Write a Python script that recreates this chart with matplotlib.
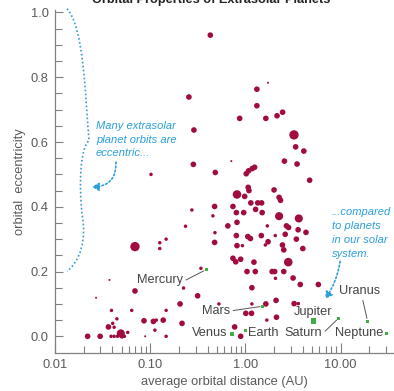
import numpy as np
import matplotlib
matplotlib.use("Agg")
import matplotlib.pyplot as plt
from matplotlib.path import Path
from matplotlib.patches import PathPatch
from matplotlib.ticker import FixedLocator, NullFormatter

# ---- extrasolar planets: orbit size (AU), eccentricity, rough mass (Jupiter masses)
exo_distance = [
    0.0220, 0.0298, 0.0388, 0.0418, 0.0453, 0.0491, 0.0505, 0.0536, 0.0581, 0.0886, 0.147,
    0.0364, 0.0418, 0.0404, 0.0447, 0.0392, 0.0640, 0.0270, 0.0373, 0.0692, 0.0692,
    0.0861, 0.108, 0.116, 0.112, 0.137, 0.147, 0.216, 0.206, 0.224, 0.315,
    0.126, 0.147, 0.126, 0.235, 0.274, 0.341, 0.527, 0.102, 0.284, 0.255, 0.288, 0.428,
    0.712, 0.483, 0.475, 0.456, 0.479, 0.475, 0.654, 0.740, 0.804, 0.960, 0.816, 0.804,
    0.816, 0.983, 1.07, 1.09, 1.02, 1.08, 1.25, 1.18, 0.816, 0.930, 0.740, 0.791, 0.892,
    1.04, 1.27, 1.23, 1.17, 1.01, 1.16, 1.64, 1.17, 1.68, 0.771, 0.892,
    1.62, 1.73, 2.45, 2.53, 4.01, 2.82, 1.91, 2.03, 2.53, 2.07, 3.17, 3.77, 5.84,
    2.10, 3.25, 3.60, 2.12,
    1.14, 1.35, 1.48, 1.28, 1.50, 2.26, 3.64, 1.70, 2.70, 2.84, 3.58, 4.33, 1.47, 2.06,
    2.62, 3.43, 1.06, 1.13, 2.00, 2.26, 2.34, 4.73, 2.57, 3.49, 3.37, 4.11, 3.24,
    0.871, 1.64, 2.15, 2.46, 1.32, 1.32, 1.73,
]
exo_eccentricity = [
    0.0, 0.0, 0.0, 0.0, 0.0, 0.009, 0.0, 0.0, 0.012, 0.0, 0.0,
    0.029, 0.028, 0.040, 0.054, 0.080, 0.080, 0.119, 0.174, 0.140, 0.277,
    0.048, 0.046, 0.050, 0.019, 0.050, 0.080, 0.040, 0.100, 0.149, 0.125,
    0.289, 0.300, 0.271, 0.340, 0.390, 0.210, 0.100, 0.500, 0.531, 0.739, 0.637, 0.930,
    0.541, 0.506, 0.401, 0.372, 0.320, 0.290, 0.341, 0.401, 0.382, 0.382, 0.352, 0.311,
    0.438, 0.432, 0.460, 0.450, 0.502, 0.511, 0.522, 0.518, 0.280, 0.280, 0.241, 0.230, 0.238,
    0.200, 0.200, 0.229, 0.150, 0.071, 0.071, 0.100, 0.100, 0.050, 0.029, 0.0,
    0.282, 0.292, 0.282, 0.267, 0.271, 0.229, 0.200, 0.200, 0.200, 0.179, 0.180, 0.160, 0.160,
    0.111, 0.101, 0.101, 0.059,
    0.412, 0.412, 0.412, 0.392, 0.382, 0.371, 0.364, 0.341, 0.341, 0.336, 0.329, 0.321, 0.311, 0.311,
    0.315, 0.300, 0.308, 0.302, 0.452, 0.429, 0.420, 0.482, 0.541, 0.532, 0.585, 0.572, 0.622,
    0.673, 0.673, 0.681, 0.692, 0.712, 0.763, 0.783,
]
exo_mass = [
    1.5, 1.5, 0.3, 0.3, 0.3, 5, 0.8, 0.3, 0.3, 0.05, 0.3,
    1.5, 0.3, 0.3, 0.3, 0.3, 0.3, 0.05, 0.05, 1.5, 8,
    1.5, 1.5, 0.3, 0.3, 1.5, 0.3, 1.5, 1.5, 0.3, 1.5,
    0.3, 0.3, 0.3, 0.3, 0.3, 0.3, 0.3, 0.3, 1.5, 1.5, 1.5, 1.5,
    0.05, 1.5, 1.5, 0.3, 0.3, 1.5, 1.5, 1.5, 1.5, 1.5, 1.5, 1.5,
    6, 1.5, 1.5, 1.5, 1.5, 1.5, 1.5, 1.5, 1.5, 0.3, 1.5, 1.5, 1.5,
    1.5, 1.5, 1.5, 1.5, 1.5, 1.5, 1.5, 0.3, 0.3, 1.5, 1.5,
    0.3, 1.5, 1.5, 1.5, 1.5, 6, 1.5, 1.5, 1.5, 0.3, 1.5, 1.5, 1.5,
    1.5, 1.5, 0.3, 1.5,
    1.5, 1.5, 1.5, 1.5, 1.5, 5, 5, 0.3, 1.5, 1.5, 1.5, 1.5, 1.5, 0.3,
    1.5, 1.5, 1.5, 1.5, 1.5, 1.5, 1.5, 1.5, 1.5, 1.5, 1.5, 1.5, 8,
    1.5, 1.5, 1.5, 1.5, 1.5, 1.5, 0.05,
]

# ---- our solar system
solar_names = ["Mercury", "Venus", "Earth", "Mars", "Jupiter", "Saturn", "Uranus", "Neptune"]
solar_distance = [0.387, 0.723, 1.0, 1.524, 5.20, 9.54, 19.2, 30.1]
solar_eccentricity = [0.206, 0.007, 0.017, 0.093, 0.048, 0.056, 0.047, 0.009]

x_ticks = [0.01, 0.1, 1.0, 10.0]
x_tick_labels = ["0.01", "0.10", "1.00", "10.00"]
y_ticks = [0.0, 0.2, 0.4, 0.6, 0.8, 1.0]
y_tick_labels = ["0.0", "0.2", "0.4", "0.6", "0.8", "1.0"]

# ---- styling
EXO_COLOR = "#a00c3c"
SOLAR_COLOR = "#3fae49"
NOTE_COLOR = "#2b9fd8"
AXIS_COLOR = "#808080"
TEXT_COLOR = "#5a5a5a"
FONT = ["Liberation Sans", "DejaVu Sans"]
plt.rcParams["font.family"] = FONT

fig = plt.figure(figsize=(3.94, 3.91), dpi=100)
ax = fig.add_axes([0.1396, 0.0964, 0.8604, 0.8775])
ax.set_xscale("log")
ax.set_xlim(0.01, 36.4)
ax.set_ylim(-0.0525, 1.007)

for side in ("top", "right"):
    ax.spines[side].set_visible(False)
for side in ("left", "bottom"):
    ax.spines[side].set_color(AXIS_COLOR)
    ax.spines[side].set_linewidth(0.9)

ax.set_xticks(x_ticks)
ax.set_xticklabels(x_tick_labels)
ax.xaxis.set_minor_locator(FixedLocator(
    [m * d for d in (0.01, 0.1, 1.0, 10.0) for m in range(2, 10) if m * d < 36]))
ax.xaxis.set_minor_formatter(NullFormatter())
ax.set_yticks(y_ticks)
ax.set_yticklabels(y_tick_labels)
ax.yaxis.set_minor_locator(FixedLocator([0.05, 0.1, 0.15, 0.25, 0.3, 0.35, 0.45, 0.5, 0.55,
                                         0.65, 0.7, 0.75, 0.85, 0.9, 0.95]))

ax.tick_params(axis="x", which="major", direction="in", length=7.2, width=0.8,
               color=AXIS_COLOR, labelcolor=TEXT_COLOR, labelsize=9.3, pad=4)
ax.tick_params(axis="x", which="minor", direction="in", length=4.8, width=0.8, color=AXIS_COLOR)
ax.tick_params(axis="y", which="major", direction="in", length=6.0, width=0.8,
               color=AXIS_COLOR, labelcolor=TEXT_COLOR, labelsize=9.3, pad=4.5)
ax.tick_params(axis="y", which="minor", direction="in", length=4.8, width=0.8, color=AXIS_COLOR)

ax.set_xlabel("average orbital distance (AU)", fontsize=9.3, color=TEXT_COLOR)
ax.set_ylabel("orbital  eccentricity", fontsize=9.3, color=TEXT_COLOR)
ax.xaxis.set_label_coords(0.5, -0.065)
ax.yaxis.set_label_coords(-0.087, 0.5)

# ---- extrasolar planets
sizes = 13 * np.asarray(exo_mass) ** 0.6
ax.scatter(exo_distance, exo_eccentricity, s=sizes, c=EXO_COLOR, linewidths=0, zorder=3)

# ---- solar system planets with labels
solar_sizes = [18 if n == "Jupiter" else 5 for n in solar_names]
ax.scatter(solar_distance, solar_eccentricity, s=solar_sizes, marker="s",
           c=SOLAR_COLOR, linewidths=0, zorder=4)

label_layout = {
    "Mercury": ((0.219, 0.174), "right", (1.0, 0.35)),
    "Venus":   ((0.651, 0.010), "right", None),
    "Earth":   ((1.057, 0.010), "left", None),
    "Mars":    ((0.684, 0.078), "right", (1.0, 0.5)),
    "Jupiter": ((5.11, 0.075), "center", None),
    "Saturn":  ((6.36, 0.010), "right", (1.0, 0.4)),
    "Uranus":  ((16.0, 0.140), "center", (0.55, 0.0)),
    "Neptune": ((27.9, 0.010), "right", None),
}
for name, a, e in zip(solar_names, solar_distance, solar_eccentricity):
    pos, ha, rel = label_layout[name]
    arrow = None
    if rel is not None:
        arrow = dict(arrowstyle="-", color="#555555", lw=0.7, relpos=rel,
                     shrinkA=0.5, shrinkB=2)
    ax.annotate(name, xy=(a, e), xytext=pos, textcoords="data", ha=ha, va="center",
                fontsize=9.2, color="#444444", arrowprops=arrow, zorder=5)

# ---- blue notes
left_note = ["Many extrasolar", "planet orbits are", "eccentric..."]
for i, line in enumerate(left_note):
    ax.text(0.121, 0.653 - i * 0.039, line, transform=ax.transAxes, fontsize=8,
            style="italic", color=NOTE_COLOR, ha="left", va="baseline")
right_note = ["...compared", "to planets", "in our solar", "system."]
for i, line in enumerate(right_note):
    ax.text(0.816, 0.403 - i * 0.0405, line, transform=ax.transAxes, fontsize=8,
            style="italic", color=NOTE_COLOR, ha="left", va="baseline")

# dotted curly brace spanning the high-eccentricity range
brace = Path(
    [(0.0354, 1.0045), (0.0855, 0.949), (0.0885, 0.758), (0.1003, 0.620),
     (0.0737, 0.597), (0.0708, 0.494), (0.0796, 0.406),
     (0.0944, 0.332), (0.0737, 0.268), (0.0354, 0.239)],
    [Path.MOVETO, Path.CURVE4, Path.CURVE4, Path.CURVE4,
     Path.CURVE4, Path.CURVE4, Path.CURVE4,
     Path.CURVE4, Path.CURVE4, Path.CURVE4])
ax.add_patch(PathPatch(brace, transform=ax.transAxes, fill=False, edgecolor=NOTE_COLOR,
                       lw=1.2, linestyle=(0, (1, 1.4)), clip_on=False))

dotted_arrow = dict(arrowstyle="-|>,head_length=0.5,head_width=0.3", color=NOTE_COLOR,
                    lw=1.2, linestyle=(0, (1, 1.4)), mutation_scale=8, shrinkA=0, shrinkB=0)
ax.annotate("", xy=(0.109, 0.485), xytext=(0.180, 0.557), xycoords="axes fraction",
            textcoords="axes fraction",
            arrowprops=dict(dotted_arrow, connectionstyle="arc3,rad=-0.5"))
ax.annotate("", xy=(0.797, 0.159), xytext=(0.841, 0.268), xycoords="axes fraction",
            textcoords="axes fraction",
            arrowprops=dict(dotted_arrow, connectionstyle="arc3,rad=-0.12"))

# title sits at the very top edge
fig.text(0.537, 1 - 2.7 / 391, "Orbital Properties of Extrasolar Planets", ha="center",
         va="baseline", fontsize=9.2, fontweight="bold", color="#222222")

fig.savefig("out.png", dpi=100)
